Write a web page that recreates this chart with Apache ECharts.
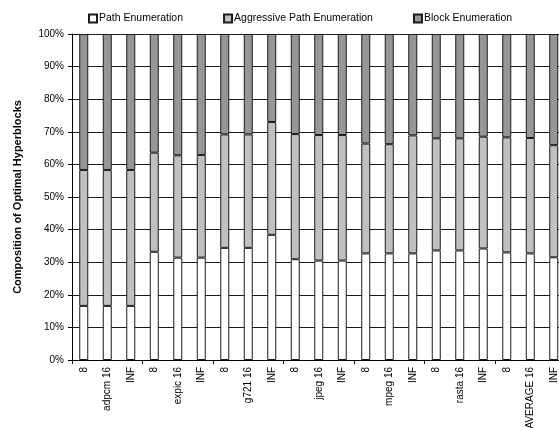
<!DOCTYPE html>
<html>
<head>
<meta charset="utf-8">
<script src="https://cdn.jsdelivr.net/npm/echarts@6/dist/echarts.min.js"></script>
<style>
  html, body { margin: 0; padding: 0; background: #fff; }
  #chart { width: 559px; height: 428px; }
</style>
</head>
<body>
<div id="chart"></div>
<script>
// Benchmark / configuration labels along the category axis
var categories = [
  '8', 'adpcm 16', 'INF',
  '8', 'expic 16', 'INF',
  '8', 'g721 16', 'INF',
  '8', 'jpeg 16', 'INF',
  '8', 'mpeg 16', 'INF',
  '8', 'rasta 16', 'INF',
  '8', 'AVERAGE 16', 'INF'
];

// Share (%) of optimal hyperblocks found by each technique
var pathEnum = [16.6, 16.6, 16.6, 33.2, 31.4, 31.4, 34.4, 34.4, 38.4, 30.9, 30.5, 30.5, 32.7, 32.7, 32.7, 33.6, 33.6, 34.2, 33.0, 32.7, 31.5];
var aggressivePathEnum = [41.7, 41.7, 41.7, 30.4, 31.4, 31.5, 34.8, 34.8, 34.6, 38.4, 38.5, 38.5, 33.7, 33.5, 36.2, 34.4, 34.4, 34.3, 35.3, 35.4, 34.4];
var blockEnum = [41.7, 41.7, 41.7, 36.4, 37.2, 37.1, 30.8, 30.8, 27.0, 30.7, 31.0, 31.0, 33.6, 33.8, 31.1, 32.0, 32.0, 31.5, 31.7, 31.9, 34.1];

var seriesNames = ['Path Enumeration', 'Aggressive Path Enumeration', 'Block Enumeration'];
var yTicks = { min: 0, max: 100, step: 10 };

var FONT = '"Liberation Sans", Arial, sans-serif';

function barSeries(name, values, color) {
  return {
    name: name,
    type: 'bar',
    stack: 'total',
    barWidth: 9,
    data: values,
    itemStyle: { color: color, borderColor: '#1a1a1a', borderWidth: 1 },
    emphasis: { disabled: true }
  };
}

var chart = echarts.init(document.getElementById('chart'), null, { renderer: 'canvas' });
chart.setOption({
  animation: false,
  backgroundColor: '#ffffff',
  textStyle: { fontFamily: FONT },
  legend: {
    top: 13,
    left: 88,
    padding: 0,
    itemWidth: 8,
    itemHeight: 8,
    itemGap: 40,
    icon: 'rect',
    data: seriesNames,
    textStyle: { fontFamily: FONT, fontSize: 10.5, color: '#000', padding: [0, 0, 0, -3] }
  },
  grid: {
    left: 72,
    top: 34,
    width: 493.5,
    height: 326,
    outerBoundsMode: 'none',
    containLabel: false
  },
  xAxis: {
    type: 'category',
    data: categories,
    boundaryGap: true,
    axisLine: { show: true, lineStyle: { color: '#000', width: 1 } },
    axisTick: {
      show: true,
      length: 4,
      interval: function (index) { return index % 3 === 0; },
      lineStyle: { color: '#000' }
    },
    axisLabel: {
      interval: 0,
      rotate: 90,
      margin: 7,
      fontFamily: FONT,
      fontSize: 10,
      color: '#000'
    },
    splitLine: { show: false }
  },
  yAxis: {
    type: 'value',
    min: yTicks.min,
    max: yTicks.max,
    interval: yTicks.step,
    name: 'Composition of Optimal Hyperblocks',
    nameLocation: 'middle',
    nameRotate: 90,
    nameGap: 49,
    nameTextStyle: { fontFamily: FONT, fontSize: 11, fontWeight: 'bold', color: '#000' },
    axisLine: { show: true, lineStyle: { color: '#000', width: 1 } },
    axisTick: { show: true, length: 4, inside: false, lineStyle: { color: '#000' } },
    axisLabel: {
      formatter: '{value}%',
      margin: 8,
      fontFamily: FONT,
      fontSize: 10,
      color: '#000'
    },
    splitLine: { show: true, lineStyle: { color: '#1a1a1a', width: 1 } }
  },
  series: [
    barSeries(seriesNames[0], pathEnum, '#ffffff'),
    barSeries(seriesNames[1], aggressivePathEnum, '#c0c0c0'),
    barSeries(seriesNames[2], blockEnum, '#969696')
  ]
});
</script>
</body>
</html>
